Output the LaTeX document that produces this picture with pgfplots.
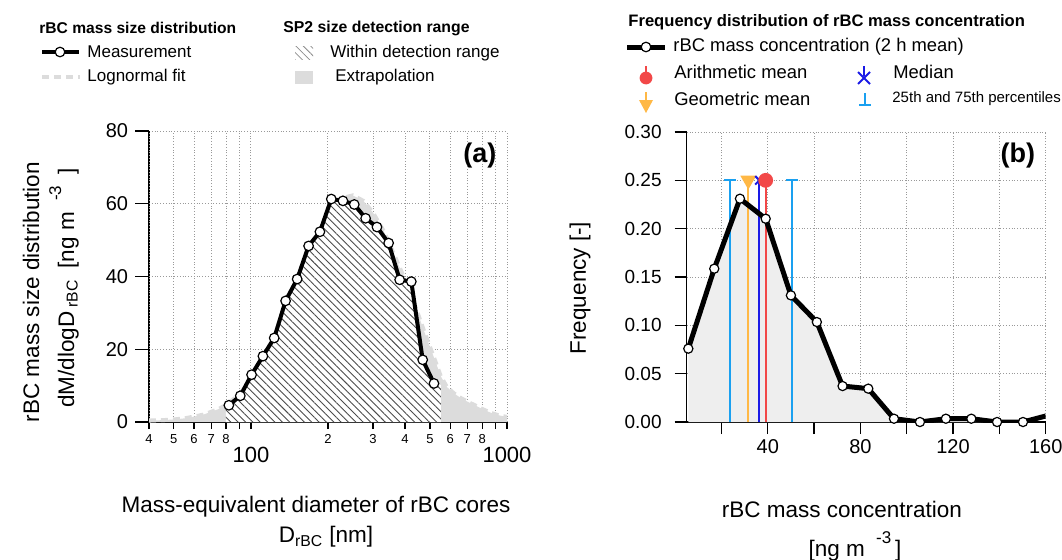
\documentclass[border=0pt]{standalone}
\usepackage{fontspec}
\setmainfont{Liberation Sans}
\usepackage{pgfplots}
\usepackage{pgfplotstable}
\pgfplotsset{compat=1.18}
\usetikzlibrary{patterns.meta}

\definecolor{fitgray}{HTML}{DCDCDC}
\definecolor{areagray}{HTML}{EEEEEE}
\definecolor{pctblue}{HTML}{1AA0F0}
\definecolor{gmorange}{HTML}{FFB845}
\definecolor{medblue}{HTML}{1A1AE6}
\definecolor{amred}{HTML}{F24848}
\newcommand\fs[1]{\fontsize{#1}{#1}\selectfont}
\newcommand\mn[1]{{\fs{6.5}#1}}
\newcommand\mj[1]{{\fs{11}\raisebox{-9.2pt}{#1}}}

\tikzset{hatch/.style={pattern={Lines[angle=-45,distance=2.6pt,line width=0.45pt]},pattern color=black!70}}

\pgfplotsset{common/.style={
  scale only axis, axis x line*=bottom, axis y line*=left,
  axis line style={-,line width=0.6pt}, tick style={black,line width=0.6pt},
  tick align=outside, grid=major,
  major grid style={densely dotted,gray!80,line width=0.5pt},
  /pgf/number format/assume math mode=true,
  tick label style={font=\fs{9.5}}}}

% (a) measured mass size distribution
\pgfplotstableread{
D M
82.0 4.6
90.9 7.2
100.6 13.0
111.4 18.1
123.3 23.1
136.6 33.3
151.6 39.3
168.0 48.4
186.0 52.3
206.0 61.3
228.7 60.8
253.3 59.8
280.5 56.0
310.6 53.6
345.0 49.2
381.0 39.1
423.0 38.6
468.6 17.1
518.6 10.6
}\measdata

% (a) hatched region, within detection range
\pgfplotstableread{
D M
79.8 0
79.8 4.3
82.0 4.6
90.9 7.2
100.6 13.0
111.4 18.1
123.3 23.1
136.6 33.3
151.6 39.3
168.0 48.4
186.0 52.3
206.0 61.3
228.7 60.8
253.3 59.8
280.5 56.0
310.6 53.6
345.0 49.2
381.0 39.1
423.0 38.6
468.6 17.1
518.6 10.6
552 10.2
552 0
}\hatchdata

% (a) lognormal fit
\pgfplotstableread{
D M
40 0.4
45 0.5
50 0.7
55 1.0
60 1.5
65 2.0
70 2.8
75 3.6
80 4.7
90 7.5
100 11.5
110 16.0
125 23.5
140 31.5
160 42
180 50.5
200 57
225 61.5
250 62.3
275 60.8
300 57.5
330 52.5
360 46.5
400 39
440 31.5
480 24
520 17.5
552 12.5
583 9.6
620 7.9
660 6.6
700 5.6
760 4.4
800 3.6
860 2.6
920 1.9
1000 1.4
}\fitdata

% (b) frequency distribution
\pgfplotstableread{
x f
5.7 0.0759
16.9 0.1586
28.0 0.231
39.1 0.2103
50.0 0.131
61.2 0.1034
72.3 0.0372
83.4 0.0345
94.5 0.0034
105.7 0
116.9 0.0034
127.9 0.0034
139.0 0
150.2 0
}\freqdata

\begin{document}
\begin{tikzpicture}
\useasboundingbox (0,0) rectangle (531pt,279.5pt);

\begin{axis}[common, at={(74.5pt,68.5pt)}, anchor=south west,
  width=179pt, height=145.5pt,
  xmode=log, xmin=40, xmax=1000, ymin=0, ymax=80,
  ytick={0,20,40,60,80}, major tick length=7pt,
  yticklabel style={font=\fs{10}},
  xtick=\empty, minor xtick={100,1000}, minor tick length=5.5pt,
  extra x ticks={40,50,60,70,80,90,100,200,300,400,500,600,700,800,900,1000},
  extra x tick labels={\mn{4},\mn{5},\mn{6},\mn{7},\mn{8},{},\mj{100},\mn{2},\mn{3},\mn{4},\mn{5},\mn{6},\mn{7},\mn{8},{},\mj{1000}},
  extra x tick style={grid=major, major tick length=3.5pt,
    xticklabel style={anchor=base, yshift=-7.3pt}},
]
\addplot[draw=none, fill=fitgray] table {\fitdata} \closedcycle;
\addplot[fitgray, line width=2pt, dash pattern=on 3.5pt off 2.5pt] table {\fitdata};
\addplot[draw=none, fill=white, postaction={hatch}] table {\hatchdata};
\addplot[black, line width=2pt] table {\measdata};
\addplot[only marks, mark=*, mark size=2.4pt, mark options={fill=white, draw=black, line width=0.6pt}] table {\measdata};
\node[anchor=north east, font=\bfseries\fs{13.5}] at (rel axis cs:0.99,0.985) {(a)};
\end{axis}

\begin{axis}[common, at={(343.35pt,68.5pt)}, anchor=south west,
  width=179.5pt, height=145pt,
  xmin=5, xmax=160, ymin=0, ymax=0.30,
  xtick={20,40,60,80,100,120,140,160},
  xticklabels={,40,,80,,120,,160},
  ytick={0,0.05,0.1,0.15,0.2,0.25,0.3},
  yticklabel style={xshift=-3pt, /pgf/number format/.cd, fixed, fixed zerofill, precision=2},
  xticklabel style={font=\fs{10}, yshift=1pt},
  major tick length=6pt,
]
\addplot[draw=none, fill=areagray] table {\freqdata} \closedcycle;
\addplot[pctblue, line width=1pt, mark=-, mark size=3pt, mark indices={2}] coordinates {(23.7,0) (23.7,0.25)};
\addplot[pctblue, line width=1pt, mark=-, mark size=3pt, mark indices={2}] coordinates {(50.6,0) (50.6,0.25)};
\addplot[gmorange, line width=1pt, mark=triangle*, mark size=3.6pt, mark indices={2}, mark options={rotate=180, fill=gmorange}] coordinates {(31.6,0) (31.6,0.25)};
\addplot[medblue, line width=1pt, mark=x, mark size=3pt, mark indices={2}] coordinates {(36.4,0) (36.4,0.25)};
\addplot[amred, line width=1pt, mark=*, mark size=3.2pt, mark indices={2}, mark options={fill=amred}] coordinates {(39.1,0) (39.1,0.25)};
\addplot[black, line width=2.5pt] table {\freqdata};
\addplot[black, line width=2.5pt] coordinates {(150.2,0) (160,0.0062)};
\addplot[only marks, mark=*, mark size=2.3pt, mark options={fill=white, draw=black, line width=0.6pt}] table {\freqdata};
\node[anchor=north east, font=\bfseries\fs{13.5}] at (rel axis cs:0.99,0.985) {(b)};
\end{axis}

\begin{scope}[shift={(0,279.5pt)}, x=0.5pt, y=-0.5pt, every node/.style={inner sep=0pt}]
% legend (a)
\node[anchor=west, font=\bfseries\fs{7.8}] at (39,28) {rBC mass size distribution};
\draw[line width=2pt] (42,52) -- (79,52);
\draw[fill=white, line width=0.6pt] (60,52) circle (2.4pt);
\node[anchor=west, font=\fs{8.5}] at (87,52) {Measurement};
\draw[fitgray, line width=2pt, dash pattern=on 3.5pt off 2.5pt] (42,77) -- (80,77);
\node[anchor=west, font=\fs{8.5}] at (87,77) {Lognormal fit};
\node[anchor=west, font=\bfseries\fs{7.9}] at (283,28) {SP2 size detection range};
\fill[pattern={Lines[angle=-45,distance=2.6pt,line width=0.4pt]}, pattern color=black!45] (295,46) rectangle (313,59);
\node[anchor=west, font=\fs{8.5}] at (330,53) {Within detection range};
\fill[fitgray] (295,71) rectangle (313,84);
\node[anchor=west, font=\fs{8.5}] at (335,77) {Extrapolation};
% legend (b)
\node[anchor=west, font=\bfseries\fs{8.3}] at (628,22) {Frequency distribution of rBC mass concentration};
\draw[line width=2.5pt] (627,47) -- (665,47);
\draw[fill=white, line width=0.6pt] (646,47) circle (2.4pt);
\node[anchor=west, font=\fs{9.2}] at (673,47) {rBC mass concentration (2 h mean)};
\draw[amred, line width=1pt] (646,66) -- (646,74);
\fill[amred] (646,78) circle (3.2pt);
\node[anchor=west, font=\fs{9.2}] at (674,72) {Arithmetic mean};
\draw[medblue, line width=1pt] (864,66) -- (864,76);
\draw[medblue, line width=1pt] (858,72) -- (870,84) (858,84) -- (870,72);
\node[anchor=west, font=\fs{9.2}] at (893,72) {Median};
\draw[gmorange, line width=1pt] (646,92) -- (646,101);
\fill[gmorange] (639,100) -- (653,100) -- (646,113) -- cycle;
\node[anchor=west, font=\fs{9.2}] at (674,99) {Geometric mean};
\draw[pctblue, line width=1pt] (865,93) -- (865,105) (859,105) -- (871,105);
\node[anchor=west, font=\fs{7.5}] at (892,99) {25th and 75th percentiles};
% axis titles
\node[rotate=90, font=\fs{11.25}] at (31,292) {rBC mass size distribution};
\node[rotate=90, font=\fs{11.25}] at (64,288) {dM/dlogD\,\textsubscript{rBC}\enspace[ng m\enspace\raisebox{1.1ex}{\fs{8.5}-3}\enspace]};
\node[font=\fs{11.25}] at (316,507) {Mass-equivalent diameter of rBC cores};
\node[font=\fs{11.25}] at (326,537) {D\textsubscript{rBC} [nm]};
\node[rotate=90, font=\fs{11.25}] at (580,288) {Frequency [-]};
\node[font=\fs{11.25}] at (842,509) {rBC mass concentration};
\node[font=\fs{11.25}] at (855,546) {[ng m\enspace\raisebox{1.1ex}{\fs{8.5}-3}\,]};
\end{scope}
\end{tikzpicture}
\end{document}
